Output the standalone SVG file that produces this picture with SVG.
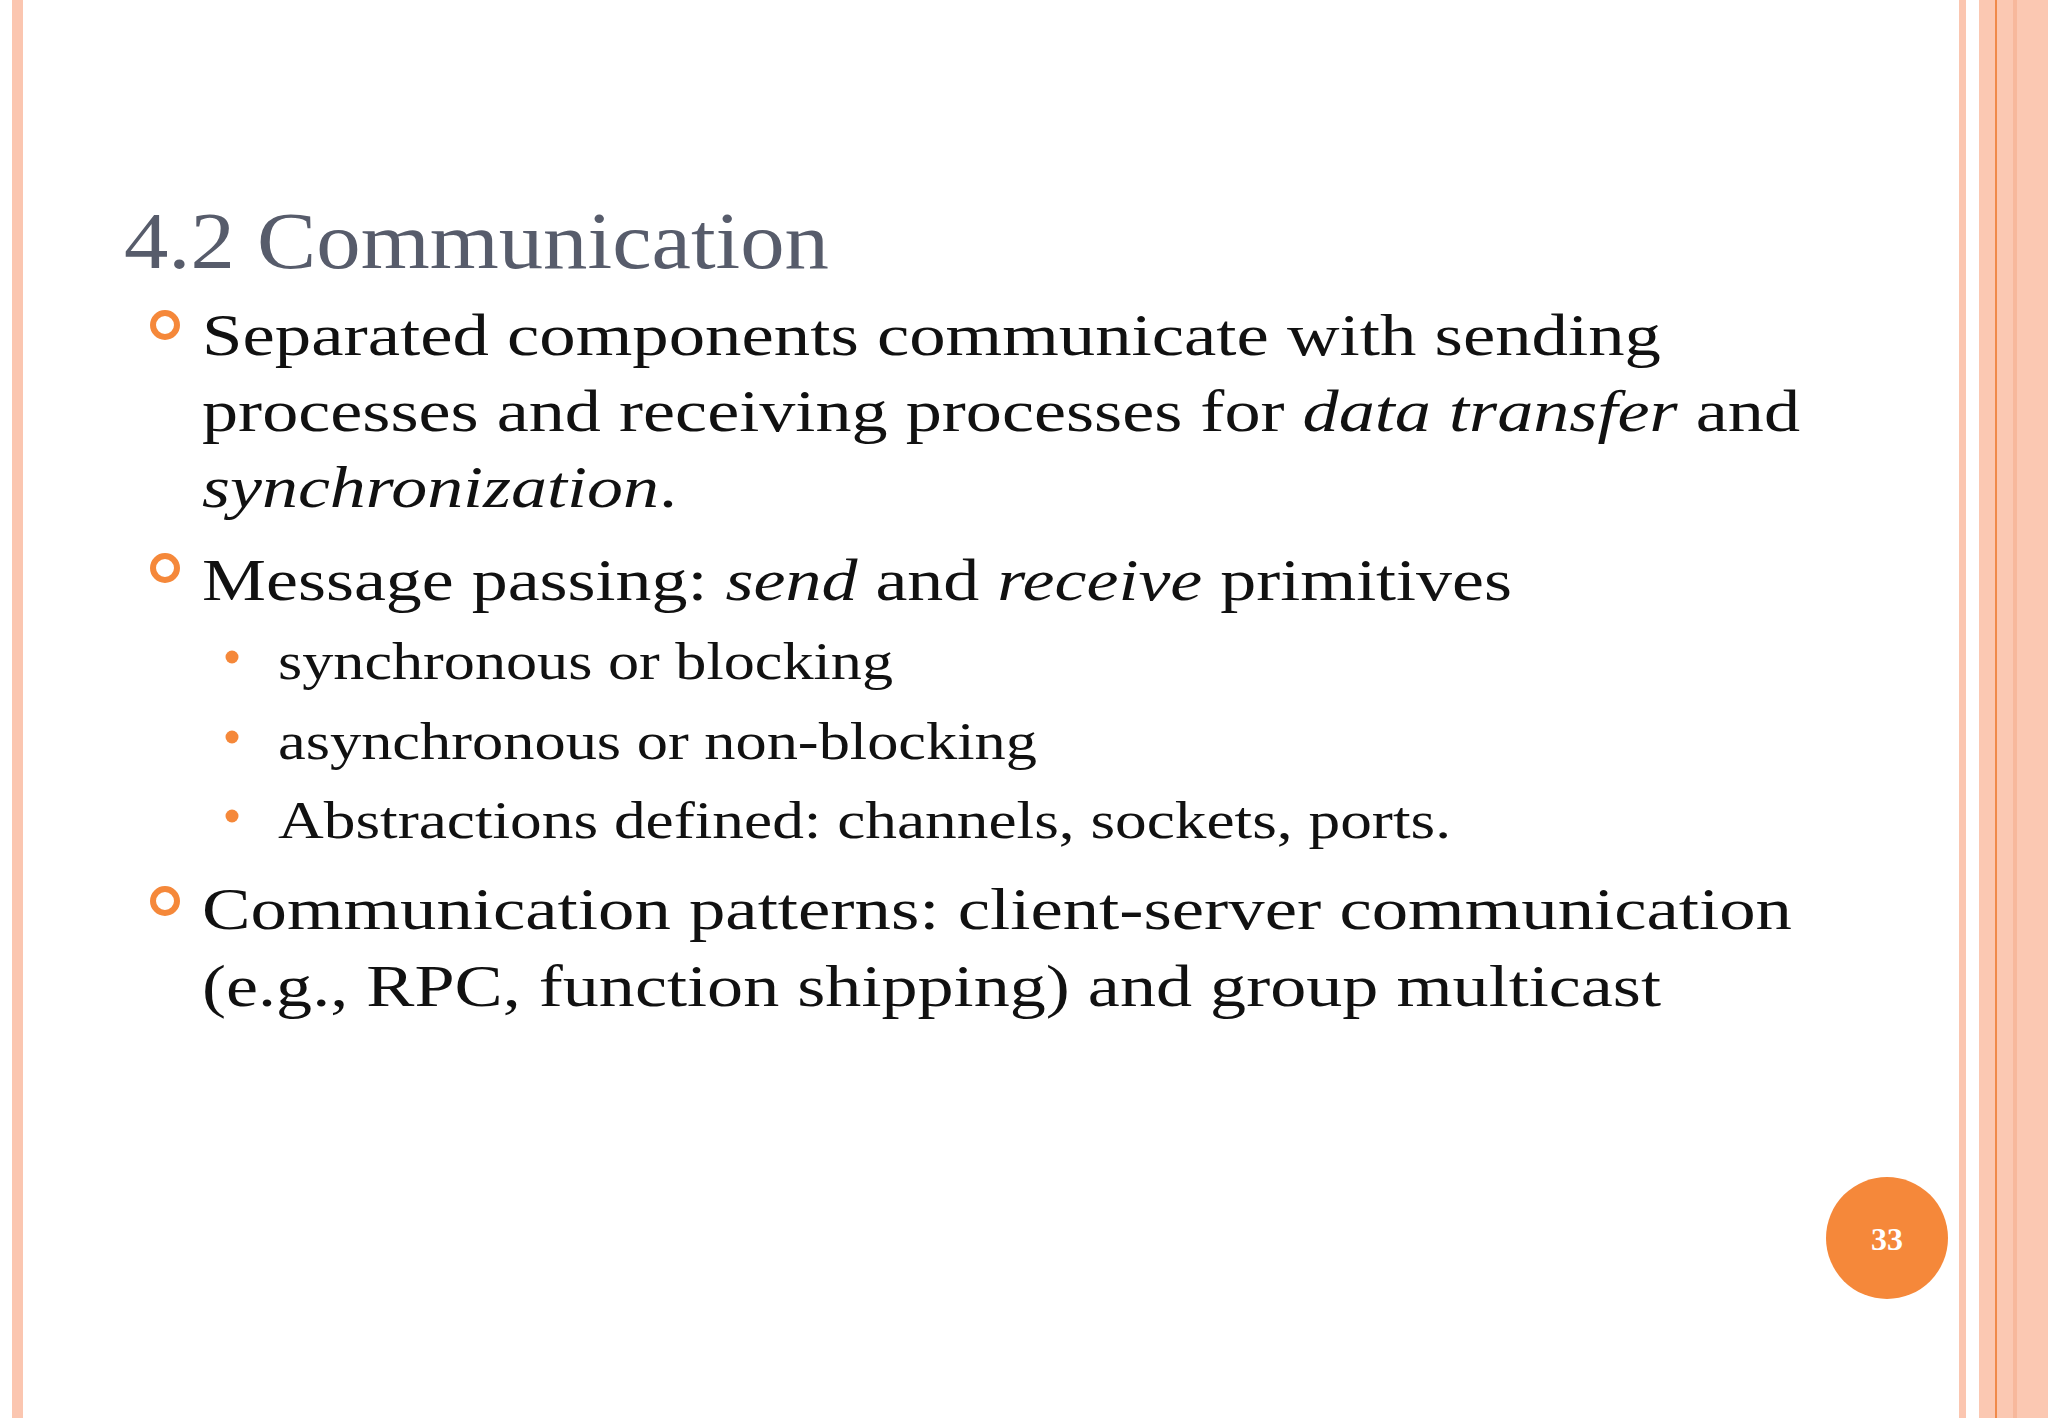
<svg xmlns="http://www.w3.org/2000/svg" width="2048" height="1418" viewBox="0 0 2048 1418">
<style>
.t{font-family:"Liberation Serif","DejaVu Serif",serif;fill:#111}
.b{font-size:60px}
.s{font-size:52px}
.ring{fill:none;stroke:#f5883a;stroke-width:6}
.dot{fill:#f5883a}
</style>
<rect width="2048" height="1418" fill="#fff"/>
<rect x="12" y="0" width="11" height="1418" fill="#fbc6b0"/>
<rect x="1959" y="0" width="7" height="1418" fill="#fbc6b0"/>
<rect x="1979" y="0" width="69" height="1418" fill="#fbc8b2"/>
<rect x="1995" y="0" width="2" height="1418" fill="#f08a4a"/>
<rect x="2013" y="0" width="4" height="1418" fill="#f7b89c"/>
<g id="title"><text x="124" y="268" class="t" font-size="80" fill="#575c6b" style="fill:#575c6b" textLength="705" lengthAdjust="spacingAndGlyphs">4.2 Communication</text></g>
<g id="bullets">
<circle class="ring" cx="165" cy="325" r="12"/>
<circle class="ring" cx="165" cy="568" r="12"/>
<circle class="ring" cx="165" cy="901" r="12"/>
<circle class="dot" cx="232" cy="657" r="6.5"/>
<circle class="dot" cx="232" cy="737" r="6.5"/>
<circle class="dot" cx="232" cy="816" r="6.5"/>
</g>
<g id="body">
<text class="t b" x="202" y="355" textLength="1459" lengthAdjust="spacingAndGlyphs">Separated components communicate with sending</text>
<text class="t b" x="202" y="431" textLength="1598" lengthAdjust="spacingAndGlyphs">processes and receiving processes for <tspan font-style="italic">data transfer</tspan> and</text>
<text class="t b" x="202" y="507" textLength="475" lengthAdjust="spacingAndGlyphs"><tspan font-style="italic">synchronization</tspan>.</text>
<text class="t b" x="202" y="600" textLength="1310" lengthAdjust="spacingAndGlyphs">Message passing: <tspan font-style="italic">send</tspan> and <tspan font-style="italic">receive</tspan> primitives</text>
<text class="t s" x="278" y="679" textLength="615" lengthAdjust="spacingAndGlyphs">synchronous or blocking</text>
<text class="t s" x="278" y="759" textLength="759" lengthAdjust="spacingAndGlyphs">asynchronous or non-blocking</text>
<text class="t s" x="278" y="838" textLength="1173" lengthAdjust="spacingAndGlyphs">Abstractions defined: channels, sockets, ports.</text>
<text class="t b" x="202" y="929" textLength="1590" lengthAdjust="spacingAndGlyphs">Communication patterns: client-server communication</text>
<text class="t b" x="202" y="1006" textLength="1459" lengthAdjust="spacingAndGlyphs">(e.g., RPC, function shipping) and group multicast</text>
</g>
<g id="page"><circle cx="1887" cy="1238" r="61" fill="#f5883a"/><text x="1887" y="1250" text-anchor="middle" font-family="Liberation Serif,serif" font-weight="bold" font-size="32" fill="#fff">33</text></g>
</svg>
